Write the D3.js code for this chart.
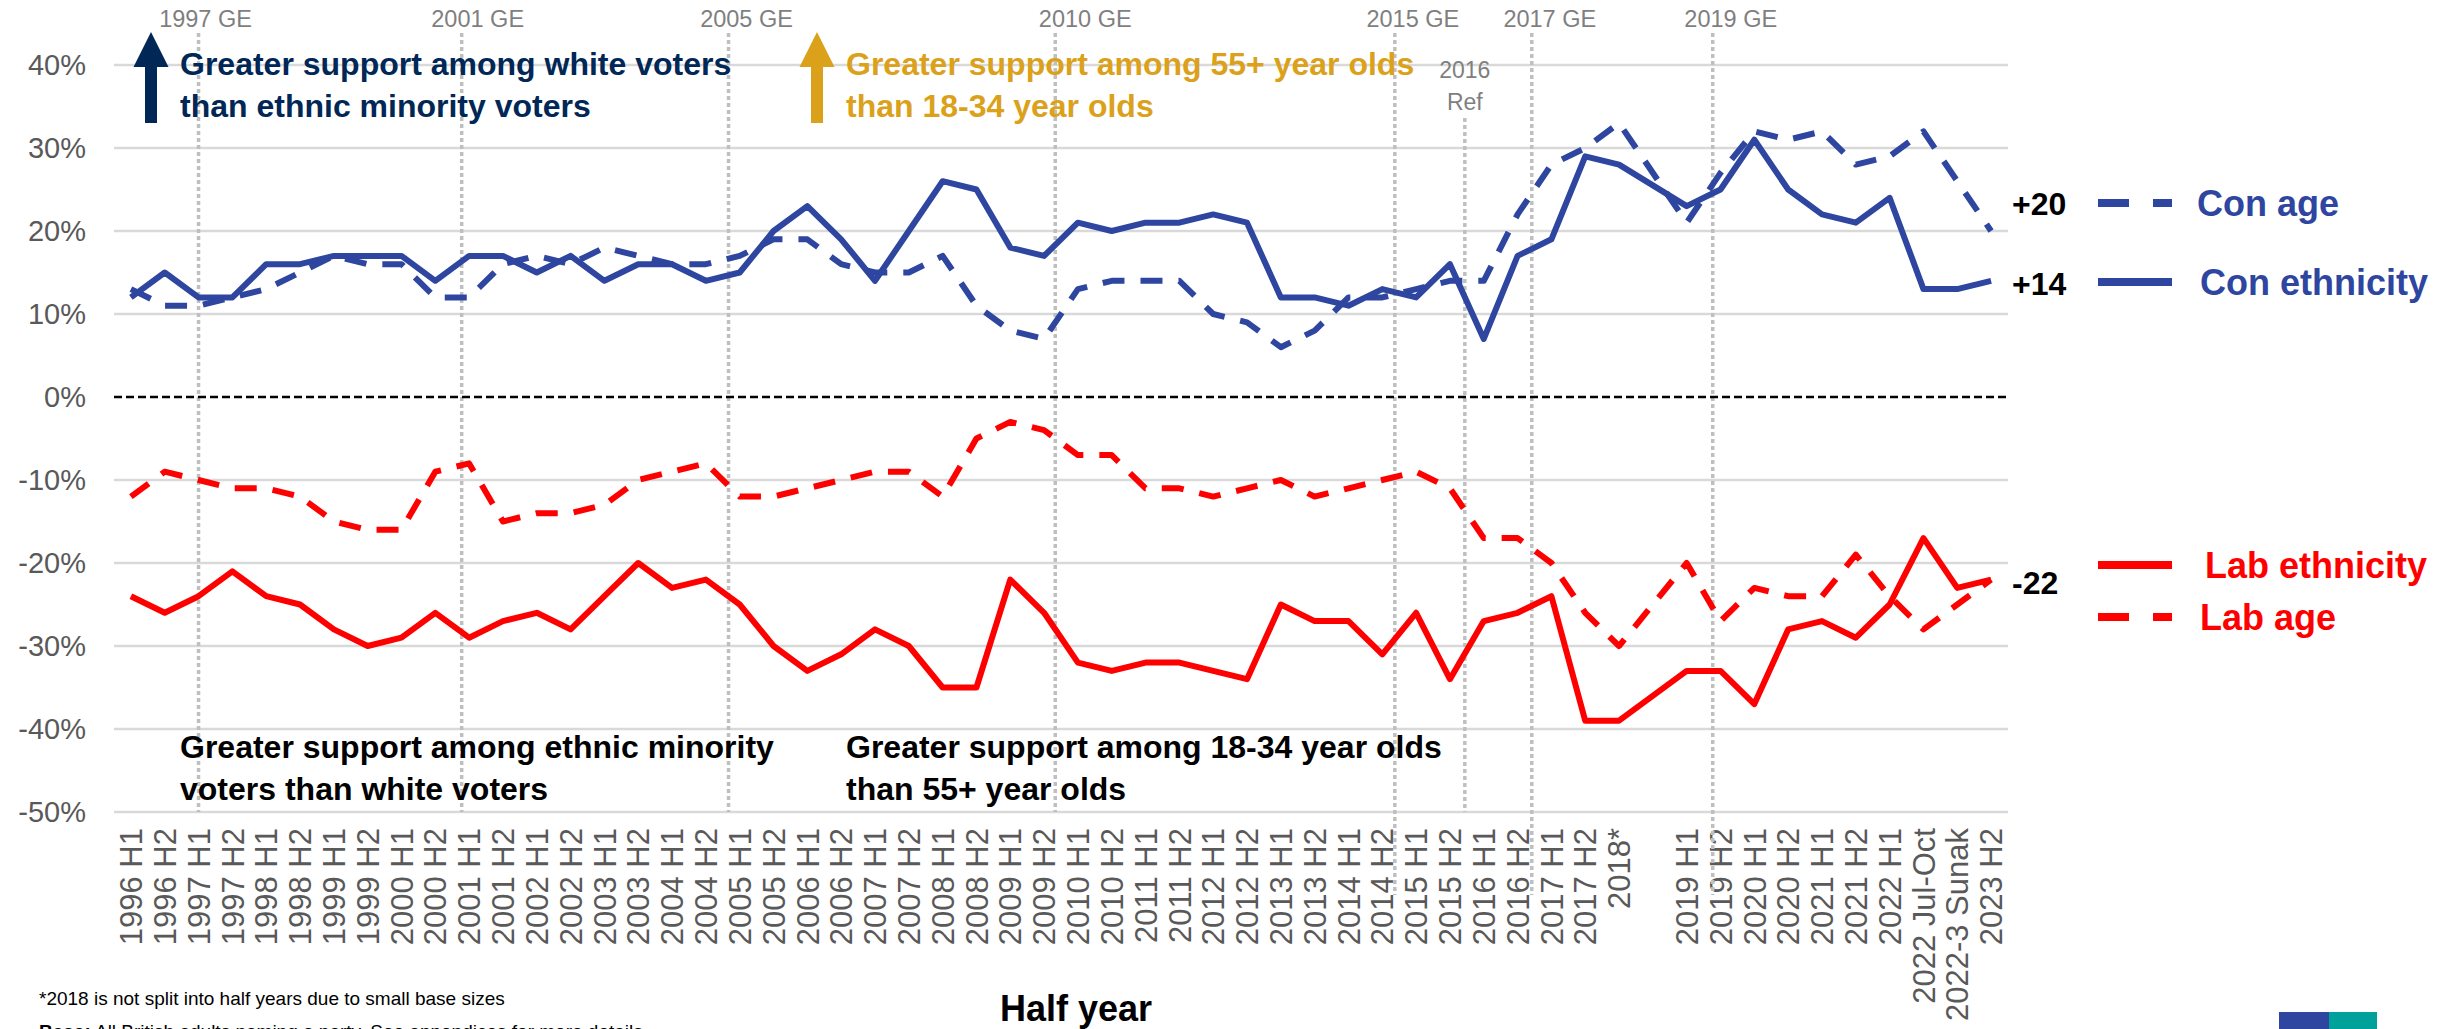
<!DOCTYPE html>
<html>
<head>
<meta charset="utf-8">
<script src="https://cdn.jsdelivr.net/npm/d3@7"></script>
<style>
  html, body { margin: 0; padding: 0; background: #fff; }
  svg { display: block; font-family: "Liberation Sans", Arial, sans-serif; }
</style>
</head>
<body>
<div id="chart"></div>
<script>
// categories (one blank slot after 2018*)
const CATEGORIES = [
  "1996 H1","1996 H2","1997 H1","1997 H2","1998 H1","1998 H2","1999 H1","1999 H2",
  "2000 H1","2000 H2","2001 H1","2001 H2","2002 H1","2002 H2","2003 H1","2003 H2",
  "2004 H1","2004 H2","2005 H1","2005 H2","2006 H1","2006 H2","2007 H1","2007 H2",
  "2008 H1","2008 H2","2009 H1","2009 H2","2010 H1","2010 H2","2011 H1","2011 H2",
  "2012 H1","2012 H2","2013 H1","2013 H2","2014 H1","2014 H2","2015 H1","2015 H2",
  "2016 H1","2016 H2","2017 H1","2017 H2","2018*","",
  "2019 H1","2019 H2","2020 H1","2020 H2","2021 H1","2021 H2","2022 H1",
  "2022 Jul-Oct","2022-3 Sunak","2023 H2"
];

const CON_ETHNICITY = [12,15,12,12,16,16,17,17,17,14, 17,17,15,17,14,16,16,14,15,20,
  23,19,14,20,26,25,18,17,21,20, 21,21,22,21,12,12,11,13,12,16,
  7,17,19,29,28,null, 23,25,31,25,22,21,24,13,13,14];

const CON_AGE = [13,11,11,12,13,15,17,16,16,12, 12,16,17,16,18,17,16,16,17,19,
  19,16,15,15,17,11,8,7,13,14, 14,14,10,9,6,8,12,12,13,14,
  14,22,28,30,33,null, 21,27,32,31,32,28,29,32,26,20];

const LAB_ETHNICITY = [-24,-26,-24,-21,-24,-25,-28,-30,-29,-26, -29,-27,-26,-28,-24,-20,-23,-22,-25,-30,
  -33,-31,-28,-30,-35,-35,-22,-26,-32,-33, -32,-32,-33,-34,-25,-27,-27,-31,-26,-34,
  -27,-26,-24,-39,-39,null, -33,-33,-37,-28,-27,-29,-25,-17,-23,-22];

const LAB_AGE = [-12,-9,-10,-11,-11,-12,-15,-16,-16,-9, -8,-15,-14,-14,-13,-10,-9,-8,-12,-12,
  -11,-10,-9,-9,-12,-5,-3,-4,-7,-7, -11,-11,-12,-11,-10,-12,-11,-10,-9,-11,
  -17,-17,-20,-26,-30,null, -20,-27,-23,-24,-24,-19,-24,-28,-25,-22];

const Y_TICKS = [40,30,20,10,0,-10,-20,-30,-40,-50];

// event lines: anchor category + fraction of a slot, label offset in px
const EVENTS = [
  { label: ["1997 GE"], at: "1997 H1", shift: 0.0,   dx: 7,  long: false },
  { label: ["2001 GE"], at: "2001 H1", shift: -0.22, dx: 16, long: false },
  { label: ["2005 GE"], at: "2005 H1", shift: -0.33, dx: 18, long: false },
  { label: ["2010 GE"], at: "2009 H2", shift: 0.33,  dx: 30, long: false },
  { label: ["2015 GE"], at: "2014 H2", shift: 0.37,  dx: 18, long: true },
  { label: ["2016", "Ref"], at: "2015 H2", shift: 0.44, dx: 0, long: false, ref: true },
  { label: ["2017 GE"], at: "2016 H2", shift: 0.42,  dx: 18, long: true },
  { label: ["2019 GE"], at: "2019 H1", shift: 0.77,  dx: 18, long: true }
];

const BLUE = "#2e46a0", RED = "#ff0000", NAVY = "#002756", GOLD = "#dba11b";

const SERIES = [
  { name: "Con ethnicity", values: CON_ETHNICITY, color: BLUE, dash: null },
  { name: "Con age",       values: CON_AGE,       color: BLUE, dash: "22,16" },
  { name: "Lab ethnicity", values: LAB_ETHNICITY, color: RED,  dash: null },
  { name: "Lab age",       values: LAB_AGE,       color: RED,  dash: "22,16" }
];

const W = 2451, H = 1029;
const svg = d3.select("#chart").append("svg")
  .attr("width", W).attr("height", H)
  .attr("viewBox", [0, 0, W, H]);

const x = d3.scalePoint().domain(CATEGORIES).range([114, 2008]).padding(0.5);
const y = d3.scaleLinear().domain([-50, 40]).range([812, 65]);
const step = x.step();

// gridlines
svg.append("g")
  .selectAll("line")
  .data(Y_TICKS.filter(d => d !== 0))
  .join("line")
  .attr("x1", 114).attr("x2", 2008)
  .attr("y1", d => y(d)).attr("y2", d => y(d))
  .attr("stroke", "#d9d9d9").attr("stroke-width", 2.5);

// y tick labels
svg.append("g")
  .selectAll("text")
  .data(Y_TICKS)
  .join("text")
  .attr("x", 86).attr("y", d => y(d))
  .attr("dy", "0.36em")
  .attr("text-anchor", "end")
  .attr("font-size", 29)
  .attr("fill", "#595959")
  .text(d => d + "%");

// x tick labels (rotated)
svg.append("g")
  .selectAll("text")
  .data(CATEGORIES)
  .join("text")
  .attr("transform", d => `translate(${x(d)},828) rotate(-90)`)
  .attr("dy", "0.36em")
  .attr("text-anchor", "end")
  .attr("font-size", 31)
  .attr("fill", "#595959")
  .text(d => d);

// event lines
const ev = svg.append("g");
EVENTS.forEach(e => {
  const ex = x(e.at) + e.shift * step;
  ev.append("line")
    .attr("x1", ex).attr("x2", ex)
    .attr("y1", e.ref ? 118 : 33)
    .attr("y2", e.long ? 895 : y(-50))
    .attr("stroke", "#bfbfbf").attr("stroke-width", 3.5)
    .attr("stroke-dasharray", "4,3");
  if (e.ref) {
    e.label.forEach((t, i) => ev.append("text")
      .attr("x", ex).attr("y", 78 + i * 32)
      .attr("text-anchor", "middle").attr("font-size", 23)
      .attr("fill", "#7f7f7f").text(t));
  } else {
    ev.append("text")
      .attr("x", ex + e.dx).attr("y", 27)
      .attr("text-anchor", "middle").attr("font-size", 23.5)
      .attr("fill", "#7f7f7f").text(e.label[0]);
  }
});

// zero line
svg.append("line")
  .attr("x1", 114).attr("x2", 2010)
  .attr("y1", y(0)).attr("y2", y(0))
  .attr("stroke", "#000").attr("stroke-width", 2.5)
  .attr("stroke-dasharray", "8,4");

// series lines
const line = d3.line()
  .x(d => x(d.c))
  .y(d => y(d.v));

SERIES.forEach(s => {
  const pts = CATEGORIES.map((c, i) => ({ c, v: s.values[i] })).filter(d => d.v != null);
  svg.append("path")
    .datum(pts)
    .attr("fill", "none")
    .attr("stroke", s.color)
    .attr("stroke-width", 6)
    .attr("stroke-linejoin", "round")
    .attr("stroke-dasharray", s.dash)
    .attr("d", line);
});

// annotations
function arrow(cx, color) {
  const p = `M${cx},32 L${cx + 17.5},67 L${cx + 6},67 L${cx + 6},123 L${cx - 6},123 L${cx - 6},67 L${cx - 17.5},67 Z`;
  svg.append("path").attr("d", p).attr("fill", color);
}
arrow(151, NAVY);
arrow(817, GOLD);

function note(x0, y0, lines, color) {
  lines.forEach((t, i) => svg.append("text")
    .attr("x", x0).attr("y", y0 + i * 42)
    .attr("font-size", 32).attr("font-weight", 700)
    .attr("fill", color).text(t));
}
note(180, 75, ["Greater support among white voters", "than ethnic minority voters"], NAVY);
note(846, 75, ["Greater support among 55+ year olds", "than 18-34 year olds"], GOLD);
note(180, 758, ["Greater support among ethnic minority", "voters than white voters"], "#000");
note(846, 758, ["Greater support among 18-34 year olds", "than 55+ year olds"], "#000");

// end values
const END_LABELS = [
  { text: "+20", cy: 203 },
  { text: "+14", cy: 283 },
  { text: "-22", cy: 582 }
];
svg.append("g").selectAll("text")
  .data(END_LABELS).join("text")
  .attr("x", 2012).attr("y", d => d.cy).attr("dy", "0.36em")
  .attr("font-size", 32).attr("font-weight", 700).attr("fill", "#000")
  .text(d => d.text);

// legend
const LEGEND = [
  { s: SERIES[1], cy: 203, tx: 2197 },
  { s: SERIES[0], cy: 282, tx: 2200 },
  { s: SERIES[2], cy: 565, tx: 2205 },
  { s: SERIES[3], cy: 617, tx: 2200 }
];
LEGEND.forEach(l => {
  svg.append("line")
    .attr("x1", 2098).attr("x2", 2172)
    .attr("y1", l.cy).attr("y2", l.cy)
    .attr("stroke", l.s.color).attr("stroke-width", 8)
    .attr("stroke-dasharray", l.s.dash ? "31,24" : null);
  svg.append("text")
    .attr("x", l.tx).attr("y", l.cy).attr("dy", "0.36em")
    .attr("font-size", 36).attr("font-weight", 700)
    .attr("fill", l.s.color).text(l.s.name);
});

// axis title
svg.append("text")
  .attr("x", 1076).attr("y", 1021)
  .attr("text-anchor", "middle")
  .attr("font-size", 36).attr("font-weight", 700)
  .text("Half year");

// footnotes
svg.append("text")
  .attr("x", 39).attr("y", 1005)
  .attr("font-size", 19).attr("fill", "#000")
  .text("*2018 is not split into half years due to small base sizes");
const base = svg.append("text")
  .attr("x", 39).attr("y", 1038)
  .attr("font-size", 19).attr("fill", "#000");
base.append("tspan").attr("font-weight", 700).text("Base:");
base.append("tspan").text(" All British adults naming a party. See appendices for more details");

// logo block
svg.append("rect").attr("x", 2279).attr("y", 1012).attr("width", 50).attr("height", 17).attr("fill", BLUE);
svg.append("rect").attr("x", 2329).attr("y", 1012).attr("width", 48).attr("height", 17).attr("fill", "#00a19a");
</script>
</body>
</html>
